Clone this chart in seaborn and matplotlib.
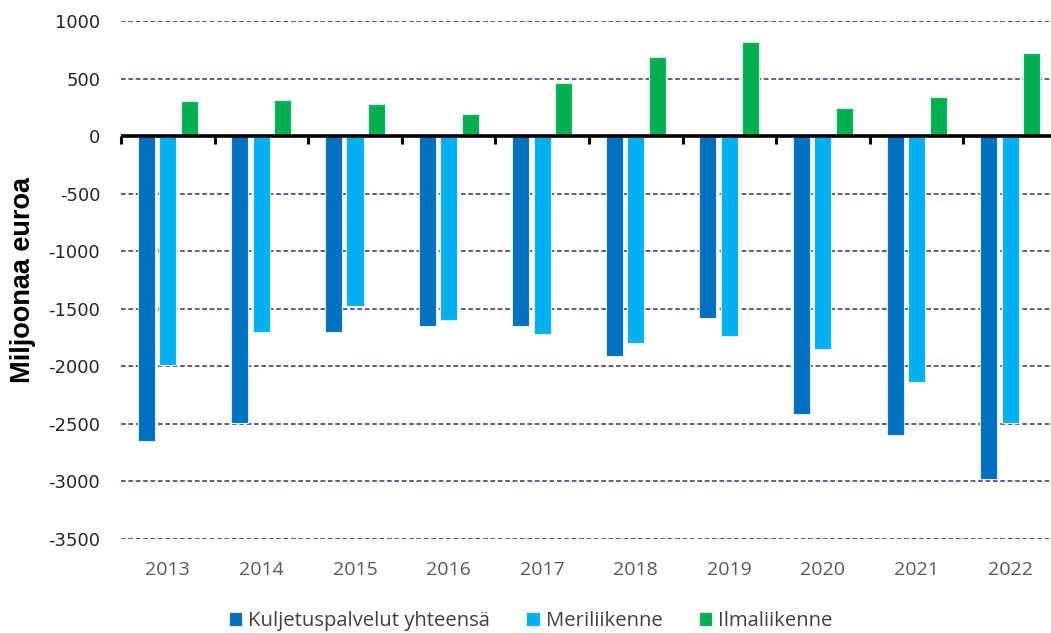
import matplotlib
matplotlib.use("Agg")
import matplotlib.pyplot as plt
import seaborn as sns
import pandas as pd
import numpy as np

# Balance of transport services, million euros
years = ["2013", "2014", "2015", "2016", "2017", "2018", "2019", "2020", "2021", "2022"]
kuljetus = [-2650, -2490, -1700, -1650, -1650, -1910, -1580, -2410, -2600, -2980]
meri = [-1990, -1700, -1480, -1600, -1715, -1795, -1740, -1850, -2135, -2490]
ilma = [305, 315, 280, 195, 465, 690, 815, 245, 340, 725]

series_names = ["Kuljetuspalvelut yhteensä", "Meriliikenne", "Ilmaliikenne"]
series_colors = ["#0070C0", "#00B0F0", "#00B050"]
yticks = [1000, 500, 0, -500, -1000, -1500, -2000, -2500, -3000, -3500]

df = pd.DataFrame({
    "Vuosi": years * 3,
    "Sarja": np.repeat(series_names, len(years)),
    "Arvo": kuljetus + meri + ilma,
})

sns.set_theme(style="white")
plt.rcParams["font.family"] = ["Open Sans", "DejaVu Sans"]

fig = plt.figure(figsize=(10.51, 6.33), dpi=100)
ax = fig.add_axes([121 / 1051, 1 - 539 / 633, 1 - 121 / 1051, (539 - 21) / 633])

sns.barplot(data=df, x="Vuosi", y="Arvo", hue="Sarja", order=years,
            hue_order=series_names, palette=series_colors, saturation=1,
            width=0.69, gap=0.21, dodge=True, errorbar=None,
            edgecolor="#DCEFF8", linewidth=0.8, ax=ax, zorder=3)

ax.set_ylim(-3500, 1000)
ax.set_xlim(-0.5, 9.436)
ax.set_yticks(yticks)
ax.set_yticklabels([str(v) for v in yticks], family="DejaVu Sans",
                   fontsize=13, color="#262626")
ax.tick_params(axis="y", length=0, pad=15)
ax.tick_params(axis="x", length=0, pad=16, labelsize=14, labelcolor="#595959")
ax.set_xlabel("")
ax.set_ylabel("Miljoonaa euroa", family="Liberation Sans", fontsize=19.5,
              fontweight="bold", color="#000000", labelpad=9)

for s in ax.spines.values():
    s.set_visible(False)

ax.yaxis.grid(True, color="#675A8C", linewidth=1.4, linestyle=(0, (2.4, 1.4)), zorder=1)
ax.xaxis.grid(False)

# zero line
ax.axhline(0, color="black", linewidth=2.6, zorder=5)

# category boundary ticks hanging from the zero line
zero_ax = ax.secondary_xaxis(0, transform=ax.transData)
zero_ax.spines["bottom"].set_visible(False)
zero_ax.set_xticks(np.arange(-0.5, len(years), 1.0))
zero_ax.set_xticklabels([])
zero_ax.tick_params(axis="x", direction="out", length=6, width=2.2, color="black")

sns.move_legend(ax, "center", bbox_to_anchor=(0.505, 0.019),
                bbox_transform=fig.transFigure, ncol=3, frameon=False,
                title=None, fontsize=14.6, handlelength=0.65, handleheight=0.65,
                handletextpad=0.3, columnspacing=1.8, labelcolor="#404040")

fig.savefig("out.png", dpi=100)
